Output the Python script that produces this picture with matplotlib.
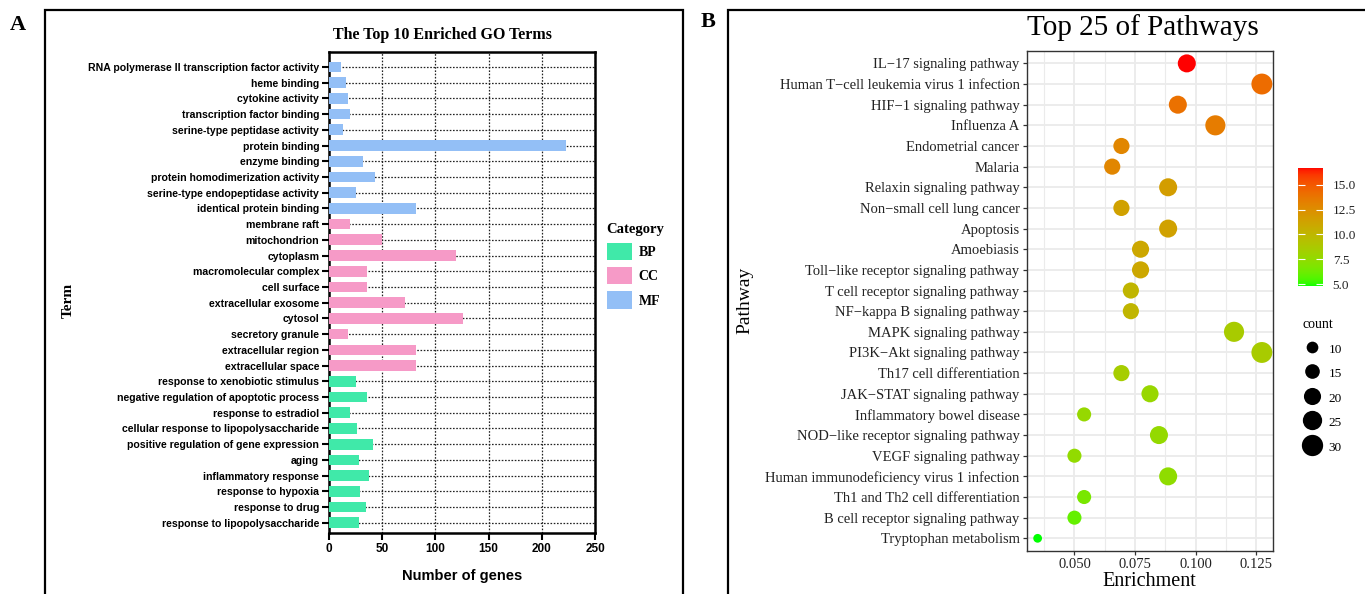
import numpy as np
import matplotlib
matplotlib.use("Agg")
import matplotlib.pyplot as plt
from matplotlib import font_manager
from matplotlib.patches import Patch, Rectangle
from matplotlib.lines import Line2D
from matplotlib.colors import ListedColormap, Normalize
import matplotlib.cm as cm

# ---------------- data : panel A (GO terms, top to bottom) ----------------
go_terms = ["RNA polymerase II transcription factor activity", "heme binding",
            "cytokine activity", "transcription factor binding",
            "serine-type peptidase activity", "protein binding", "enzyme binding",
            "protein homodimerization activity", "serine-type endopeptidase activity",
            "identical protein binding",
            "membrane raft", "mitochondrion", "cytoplasm", "macromolecular complex",
            "cell surface", "extracellular exosome", "cytosol", "secretory granule",
            "extracellular region", "extracellular space",
            "response to xenobiotic stimulus", "negative regulation of apoptotic process",
            "response to estradiol", "cellular response to lipopolysaccharide",
            "positive regulation of gene expression", "aging", "inflammatory response",
            "response to hypoxia", "response to drug", "response to lipopolysaccharide"]
go_genes = [11, 16, 18, 20, 13, 223, 32, 43, 25, 82,
            20, 50, 119, 36, 36, 71, 126, 18, 82, 82,
            25, 36, 20, 26, 41, 28, 38, 29, 35, 28]
go_cat = ["MF"] * 10 + ["CC"] * 10 + ["BP"] * 10
cat_names = ["BP", "CC", "MF"]
cat_colors = {"BP": "#40E9A9", "CC": "#F69AC7", "MF": "#93BFF6"}

# ---------------- data : panel B (KEGG pathways, top to bottom) ----------------
pathways = ["IL\u221217 signaling pathway", "Human T\u2212cell leukemia virus 1 infection",
            "HIF\u22121 signaling pathway", "Influenza A", "Endometrial cancer", "Malaria",
            "Relaxin signaling pathway", "Non\u2212small cell lung cancer", "Apoptosis",
            "Amoebiasis", "Toll\u2212like receptor signaling pathway",
            "T cell receptor signaling pathway", "NF\u2212kappa B signaling pathway",
            "MAPK signaling pathway", "PI3K\u2212Akt signaling pathway",
            "Th17 cell differentiation", "JAK\u2212STAT signaling pathway",
            "Inflammatory bowel disease", "NOD\u2212like receptor signaling pathway",
            "VEGF signaling pathway", "Human immunodeficiency virus 1 infection",
            "Th1 and Th2 cell differentiation", "B cell receptor signaling pathway",
            "Tryptophan metabolism"]
enrichment = [0.0964, 0.1274, 0.0927, 0.1082, 0.0694, 0.0656, 0.0887, 0.0694, 0.0887,
              0.0773, 0.0773, 0.0733, 0.0733, 0.1159, 0.1274, 0.0694, 0.0812, 0.0540,
              0.0849, 0.0500, 0.0887, 0.0540, 0.0500, 0.0348]
counts = [22, 29, 22, 27, 18, 18, 22, 18, 22, 20, 20, 18, 18, 27, 29, 18, 20, 14,
          22, 14, 22, 14, 14, 6]
score = [16.7, 14.2, 14.0, 13.4, 12.9, 12.9, 11.6, 11.4, 11.4, 11.0, 11.0, 10.1, 10.1,
         8.6, 8.6, 8.5, 7.8, 7.7, 7.6, 7.5, 7.4, 6.6, 6.0, 4.8]
size_breaks = [10, 15, 20, 25, 30]
color_ticks = [5.0, 7.5, 10.0, 12.5, 15.0]

# ---------------- fonts ----------------
installed = {f.name for f in font_manager.fontManager.ttflist}
narrow = "Liberation Sans Narrow" if "Liberation Sans Narrow" in installed else "Liberation Sans"
serif = ["Liberation Serif", "DejaVu Serif"]

W, H = 1365, 594
fig = plt.figure(figsize=(W / 100, H / 100), dpi=100)


def fx(x):
    return x / W


def fy(y):
    return 1 - y / H


# panel frames
fig.patches.append(Rectangle((fx(45), fy(640)), fx(683 - 45), (640 - 10) / H,
                             transform=fig.transFigure, fill=False, lw=1.6, ec="black"))
fig.patches.append(Rectangle((fx(728), fy(640)), fx(800), (640 - 10) / H,
                             transform=fig.transFigure, fill=False, lw=1.6, ec="black"))
fig.text(fx(18), fy(25), "A", fontsize=16, fontweight="bold", family=serif, va="center", ha="center")
fig.text(fx(708), fy(22), "B", fontsize=16, fontweight="bold", family=serif, va="center", ha="center")

# ======================= panel A =======================
axA = fig.add_axes([fx(329), fy(533), fx(595 - 329), (533 - 52) / H])
n = len(go_terms)
ypos = np.arange(n)[::-1]
axA.barh(ypos, go_genes, height=0.68, color=[cat_colors[c] for c in go_cat], zorder=3)
axA.set_xlim(0, 250)
axA.set_ylim(-0.65, n - 0.05)
axA.set_xticks([0, 50, 100, 150, 200, 250])
axA.set_yticks(ypos)
axA.set_yticklabels(go_terms)
axA.grid(True, linestyle=(0, (1.3, 1.3)), color="#222222", linewidth=0.9, zorder=0)
axA.set_axisbelow(True)
for s in axA.spines.values():
    s.set_linewidth(1.8)
axA.tick_params(axis="both", length=5, width=1.5, color="black", pad=2)
for lab in axA.get_yticklabels():
    lab.set_family(narrow)
    lab.set_fontweight("bold")
    lab.set_fontsize(7.6)
for lab in axA.get_xticklabels():
    lab.set_family(narrow)
    lab.set_fontweight("bold")
    lab.set_fontsize(8.5)
fig.text(fx(462), fy(576), "Number of genes", family=narrow, fontweight="bold",
         fontsize=10.5, ha="center", va="center")
fig.text(fx(68), fy(300), "Term", family=serif, fontweight="bold", fontsize=11,
         rotation=90, ha="center", va="center")
fig.text(fx(442), fy(35), "The Top 10 Enriched GO Terms", family=serif, fontweight="bold",
         fontsize=11.5, ha="center", va="center")
handles = [Patch(facecolor=cat_colors[c], edgecolor="none", label=c) for c in cat_names]
legA = fig.legend(handles=handles, loc="upper left", bbox_to_anchor=(fx(597), fy(213)),
                  frameon=False, title="Category", handlelength=1.8, handleheight=1.55,
                  labelspacing=0.5, handletextpad=0.5, borderpad=0.2,
                  prop={"family": serif, "weight": "bold", "size": 10},
                  title_fontproperties={"family": serif, "weight": "bold", "size": 10.5})
legA._legend_box.align = "left"

# ======================= panel B =======================
# green -> red ramp interpolated in CIELAB (like ggplot scale_colour_gradient)
def to_lab(rgb):
    rgb = np.asarray(rgb, float)
    lin = np.where(rgb <= 0.04045, rgb / 12.92, ((rgb + 0.055) / 1.055) ** 2.4)
    M = np.array([[0.4124, 0.3576, 0.1805], [0.2126, 0.7152, 0.0722], [0.0193, 0.1192, 0.9505]])
    xyz = M @ lin / np.array([0.95047, 1.0, 1.08883])
    f = np.where(xyz > (6 / 29) ** 3, np.cbrt(xyz), xyz / (3 * (6 / 29) ** 2) + 4 / 29)
    return np.array([116 * f[1] - 16, 500 * (f[0] - f[1]), 200 * (f[1] - f[2])])


def from_lab(lab):
    L, a, b = lab
    fy_ = (L + 16) / 116
    f = np.array([fy_ + a / 500, fy_, fy_ - b / 200])
    xyz = np.where(f > 6 / 29, f ** 3, 3 * (6 / 29) ** 2 * (f - 4 / 29)) * np.array([0.95047, 1.0, 1.08883])
    Minv = np.array([[3.2406, -1.5372, -0.4986], [-0.9689, 1.8758, 0.0415], [0.0557, -0.2040, 1.0570]])
    lin = Minv @ xyz
    rgb = np.where(lin <= 0.0031308, 12.92 * lin, 1.055 * np.clip(lin, 0, None) ** (1 / 2.4) - 0.055)
    return np.clip(rgb, 0, 1)


lab_lo, lab_hi = to_lab([0, 1, 0]), to_lab([1, 0, 0])
ramp = ListedColormap([from_lab(lab_lo + t * (lab_hi - lab_lo)) for t in np.linspace(0, 1, 256)])
norm = Normalize(vmin=4.8, vmax=16.7)


def dot_size(c):
    d_px = 11.7 + 4.14 * (np.sqrt(c) - np.sqrt(10))
    return (d_px * 72 / 100) ** 2


axB = fig.add_axes([fx(1026.5), fy(550.7), fx(1273 - 1026.5), (550.7 - 51) / H])
m = len(pathways)
yB = np.arange(m)[::-1]
axB.scatter(enrichment, yB, s=dot_size(np.array(counts)), c=score, cmap=ramp, norm=norm,
            edgecolors="none", zorder=3, clip_on=False)
axB.set_xlim(0.0302, 0.132)
axB.set_ylim(-0.6, m - 0.4)
axB.set_xticks([0.050, 0.075, 0.100, 0.125])
axB.set_xticklabels(["0.050", "0.075", "0.100", "0.125"])
axB.set_xticks([0.0375, 0.0625, 0.0875, 0.1125], minor=True)
axB.set_yticks(yB)
axB.set_yticklabels(pathways)
axB.grid(True, which="major", color="#EBEBEB", linewidth=1.3, zorder=0)
axB.grid(True, which="minor", axis="x", color="#EBEBEB", linewidth=0.8, zorder=0)
axB.set_axisbelow(True)
for s in axB.spines.values():
    s.set_color("#333333")
    s.set_linewidth(1.0)
axB.tick_params(axis="both", which="major", length=3, width=0.9, color="#333333", pad=2)
axB.tick_params(axis="x", which="minor", length=0)
for lab in axB.get_yticklabels() + axB.get_xticklabels():
    lab.set_family(serif)
    lab.set_fontsize(10.5)
    lab.set_color("#222222")
fig.text(fx(1143), fy(28), "Top 25 of Pathways", family=serif, fontsize=21, ha="center", va="center")
fig.text(fx(1149.5), fy(581), "Enrichment", family=serif, fontsize=14.5, ha="center", va="center")
fig.text(fx(745), fy(300), "Pathway", family=serif, fontsize=14, rotation=90, ha="center", va="center")

# colour bar
cax = fig.add_axes([fx(1298), fy(286), fx(25), 118 / H])
cb = fig.colorbar(cm.ScalarMappable(norm=norm, cmap=ramp), cax=cax, ticks=color_ticks)
cb.outline.set_visible(False)
cb.ax.set_yticklabels(["%.1f" % t for t in color_ticks])
cb.ax.tick_params(direction="in", color="white", length=5, width=0.8, left=True, right=True, pad=7)
for lab in cb.ax.get_yticklabels():
    lab.set_family(serif)
    lab.set_fontsize(9.5)
    lab.set_color("#222222")

# size legend
size_handles = [Line2D([], [], linestyle="none", marker="o", color="black", markeredgewidth=0,
                       markersize=np.sqrt(dot_size(b)), label=str(b)) for b in size_breaks]
legB = fig.legend(handles=size_handles, loc="upper left", bbox_to_anchor=(fx(1293), fy(309)),
                  frameon=False, title="count", handlelength=1.5, handleheight=1.3,
                  labelspacing=0.75, handletextpad=0.5, borderpad=0.2,
                  prop={"family": serif, "size": 9.5},
                  title_fontproperties={"family": serif, "size": 10})
legB._legend_box.align = "left"

fig.savefig("out.png", dpi=100)
